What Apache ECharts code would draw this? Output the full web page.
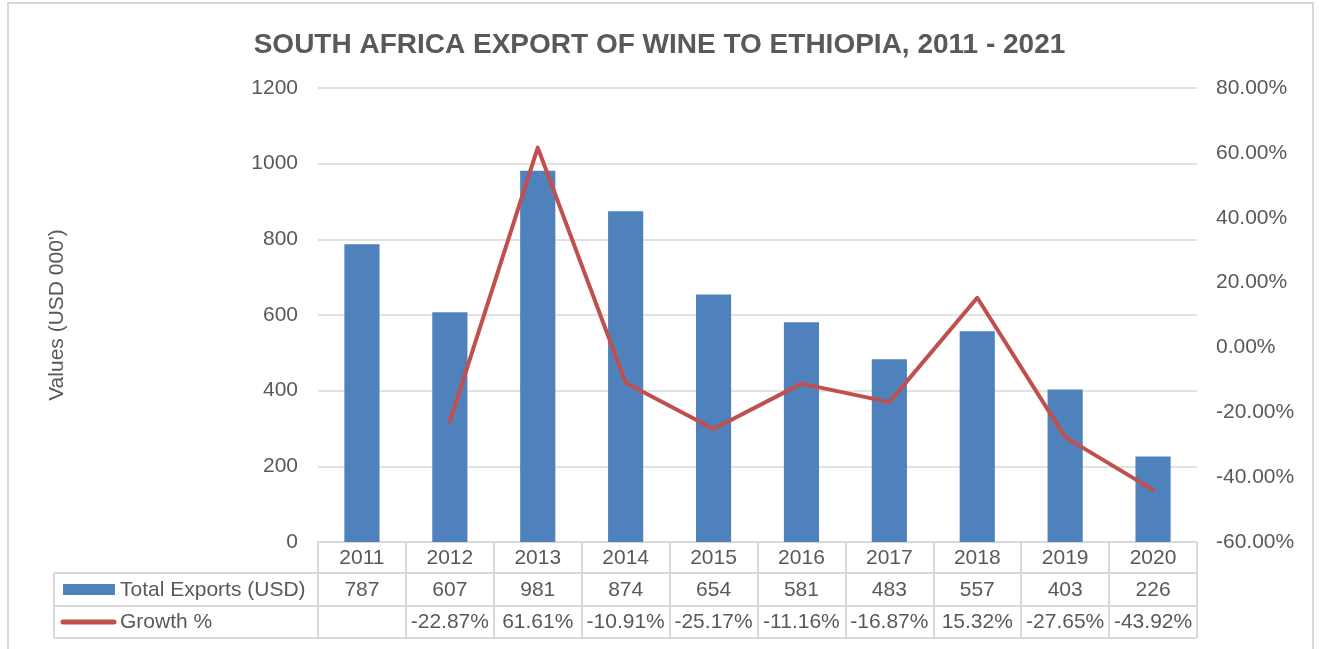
<!DOCTYPE html>
<html>
<head>
<meta charset="utf-8">
<script src="https://cdn.jsdelivr.net/npm/echarts@6/dist/echarts.min.js"></script>
<style>
  html, body { margin: 0; padding: 0; background: #ffffff; }
  #chart { width: 1319px; height: 649px; }
</style>
</head>
<body>
<div id="chart"></div>
<script>
// Wine exports from South Africa to Ethiopia (USD 000') and year-on-year growth
const categories = ['2011', '2012', '2013', '2014', '2015', '2016', '2017', '2018', '2019', '2020'];
const totalExports = [787, 607, 981, 874, 654, 581, 483, 557, 403, 226];
const growthPct = [null, -22.87, 61.61, -10.91, -25.17, -11.16, -16.87, 15.32, -27.65, -43.92];
const seriesNames = ['Total Exports (USD)', 'Growth %'];
const titleText = 'SOUTH AFRICA EXPORT OF WINE TO ETHIOPIA, 2011 - 2021';
const leftAxisName = "Values (USD 000')";

const FONT = "'Liberation Sans', Arial, sans-serif";
const TEXT = '#595959';
const GRID = '#d9d9d9';
const BLUE = '#4f81bd';
const RED = '#c0504d';

// plot area edges in pixels
const PL = 318, PR = 1197, PT = 88, PB = 542;
// data table rows below the plot
const ROW1 = 573, ROW2 = 606, ROW3 = 638, TABLE_LEFT = 54;

const exportCells = totalExports.map(v => String(v));
const growthCells = growthPct.map(v => (v === null ? '' : v.toFixed(2) + '%'));

function tableAxis(data, offset, tickLen, margin) {
  return {
    type: 'category',
    data: data,
    position: 'bottom',
    offset: offset,
    gridIndex: 0,
    axisLine: { show: true, onZero: false, lineStyle: { color: GRID, width: 2 } },
    axisTick: { show: true, interval: 0, length: tickLen, lineStyle: { color: GRID, width: 2 } },
    axisLabel: {
      interval: 0, margin: margin, verticalAlign: 'middle',
      color: TEXT, fontFamily: FONT, fontSize: 21
    },
    splitLine: { show: false }
  };
}

const chart = echarts.init(document.getElementById('chart'), null, { renderer: 'canvas' });

chart.setOption({
  backgroundColor: '#ffffff',
  animation: false,
  title: {
    text: titleText,
    left: 'center',
    top: 26,
    textStyle: { fontFamily: FONT, fontSize: 28, fontWeight: 'bold', color: TEXT }
  },
  grid: { left: PL, right: 1319 - PR, top: PT, bottom: 649 - PB, containLabel: false },
  xAxis: [
    tableAxis(categories, 0, ROW1 - PB, 16),
    tableAxis(exportCells, ROW1 - PB, ROW2 - ROW1, 17),
    tableAxis(growthCells, ROW2 - PB, ROW3 - ROW2, 16)
  ],
  yAxis: [
    {
      type: 'value', min: 0, max: 1200, interval: 200,
      name: leftAxisName, nameLocation: 'middle', nameGap: 250,
      nameTextStyle: { fontFamily: FONT, fontSize: 21, color: TEXT },
      axisLine: { show: false }, axisTick: { show: false },
      axisLabel: { margin: 20, color: TEXT, fontFamily: FONT, fontSize: 21, formatter: v => String(v) },
      splitLine: { show: true, lineStyle: { color: GRID, width: 1.5 } }
    },
    {
      type: 'value', min: -60, max: 80, interval: 20, position: 'right',
      axisLine: { show: false }, axisTick: { show: false },
      axisLabel: {
        margin: 19, color: TEXT, fontFamily: FONT, fontSize: 21,
        formatter: v => v.toFixed(2) + '%'
      },
      splitLine: { show: false }
    }
  ],
  series: [
    {
      name: seriesNames[0],
      type: 'bar',
      xAxisIndex: 0, yAxisIndex: 0,
      data: totalExports,
      barWidth: '40%',
      itemStyle: { color: BLUE },
      z: 2
    },
    {
      name: seriesNames[1],
      type: 'line',
      xAxisIndex: 0, yAxisIndex: 1,
      data: growthPct,
      showSymbol: false,
      symbol: 'none',
      lineStyle: { color: RED, width: 4, cap: 'round', join: 'round' },
      itemStyle: { color: RED },
      z: 3
    }
  ],
  graphic: [
    // outer chart frame
    { type: 'rect', shape: { x: 8, y: 3, width: 1305, height: 660 }, style: { fill: null, stroke: GRID, lineWidth: 2 }, silent: true },
    // row-header column of the data table
    { type: 'line', shape: { x1: TABLE_LEFT, y1: ROW1, x2: PL, y2: ROW1 }, style: { stroke: GRID, lineWidth: 2 } },
    { type: 'line', shape: { x1: TABLE_LEFT, y1: ROW2, x2: PL, y2: ROW2 }, style: { stroke: GRID, lineWidth: 2 } },
    { type: 'line', shape: { x1: TABLE_LEFT, y1: ROW3, x2: PR, y2: ROW3 }, style: { stroke: GRID, lineWidth: 2 } },
    { type: 'line', shape: { x1: TABLE_LEFT, y1: ROW1, x2: TABLE_LEFT, y2: ROW3 }, style: { stroke: GRID, lineWidth: 2 } },
    // legend keys
    { type: 'rect', shape: { x: 63, y: 584, width: 52, height: 11 }, style: { fill: BLUE } },
    { type: 'line', shape: { x1: 63, y1: 622, x2: 114, y2: 622 }, style: { stroke: RED, lineWidth: 5, lineCap: 'round' } },
    {
      type: 'text', x: 120, y: 590,
      style: { text: seriesNames[0], fill: TEXT, font: '21px ' + FONT, textVerticalAlign: 'middle', verticalAlign: 'middle' }
    },
    {
      type: 'text', x: 120, y: 622,
      style: { text: seriesNames[1], fill: TEXT, font: '21px ' + FONT, textVerticalAlign: 'middle', verticalAlign: 'middle' }
    }
  ]
});
</script>
</body>
</html>
